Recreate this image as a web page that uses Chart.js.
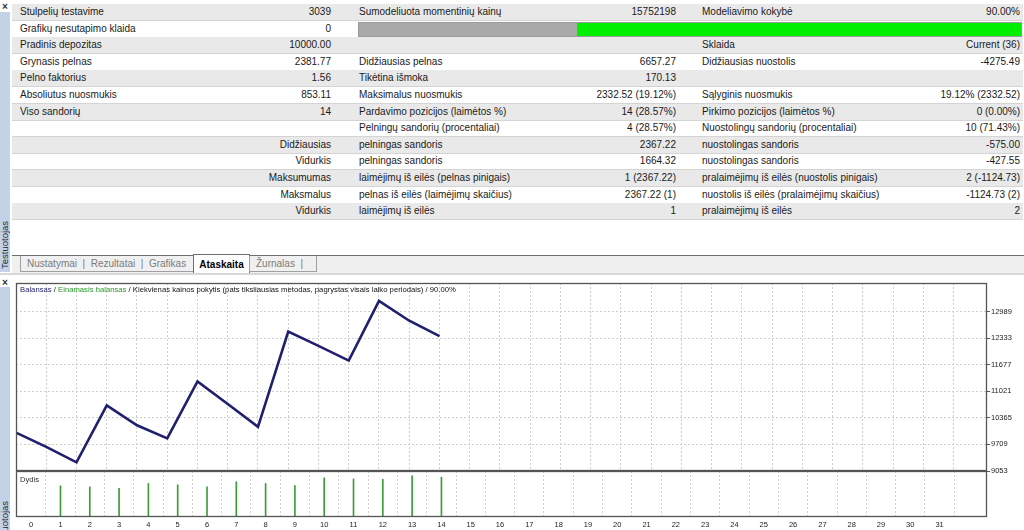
<!DOCTYPE html>
<html>
<head>
<meta charset="utf-8">
<script src="https://cdn.jsdelivr.net/npm/chart.js@4.4.1/dist/chart.umd.min.js"></script>
<style>
  body { margin: 0; width: 1024px; height: 530px; overflow: hidden; position: relative; background: #fff;
         font-family: "Liberation Sans", Arial, sans-serif; color: #1a1a1a; }
  .strip { position: absolute; left: 0; width: 10px; background: #c3d2e6; overflow: hidden; }
  .vtext { position: absolute; left: 0; transform-origin: 0 0; transform: rotate(-90deg);
           font-size: 9.5px; line-height: 10px; white-space: nowrap; color: #2a2a2a; }
  .close { position: absolute; left: 2px; font-size: 10px; font-weight: bold; color: #333; line-height: 10px; }
  .row { position: absolute; left: 12px; width: 1011px; height: 16px; border-bottom: 1px solid #d4d4d4; }
  .row.g { background: #e9e9e9; }
  .c { position: absolute; top: 0; line-height: 16px; font-size: 10px; white-space: nowrap; }
  .tabbar { position: absolute; left: 12px; top: 255px; width: 1012px; height: 17px; background: #f0f0f0; border-top: 1px solid #707070; }
  .tab { position: absolute; top: 0; height: 15px; line-height: 15px; font-size: 10px; color: #7b7b7b; white-space: nowrap; }
  canvas { position: absolute; left: 0; }
  .ttl { position: absolute; left: 20px; top: 285px; font-size: 7.7px; line-height: 9px; white-space: nowrap; color: #111; }
  .dyd { position: absolute; left: 20px; top: 475px; font-size: 7.6px; line-height: 9px; color: #333; }
</style>
</head>
<body>
<div class="close" style="top:2px">×</div>
<div class="strip" style="top:12px;height:260px"><div class="vtext" style="top:257px">Testuotojas</div></div>
<div id="table"></div>
<div class="tabbar">
  <div class="tab" style="left:8px;width:172px;border:1px solid #a0a0a0;border-top:none;padding-left:6px">Nustatymai &nbsp;|&nbsp; Rezultatai &nbsp;|&nbsp; Grafikas</div>
  <div class="tab" style="left:181px;width:55px;top:-2px;height:18px;line-height:19px;background:#fff;border:1px solid #707070;border-bottom:none;color:#000;font-weight:bold;text-align:center">Ataskaita</div>
  <div class="tab" style="left:237px;width:60px;border:1px solid #a0a0a0;border-top:none;padding-left:6px">Žurnalas &nbsp;|</div>
</div>
<div style="position:absolute;left:0;top:273px;width:1024px;height:2px;background:#d8d8d8"></div>
<div class="close" style="top:278px">×</div>
<div class="strip" style="top:287px;height:243px"><div class="vtext" style="top:262px">Testuotojas</div></div>

<canvas id="mainChart"></canvas>
<canvas id="volChart"></canvas>
<div class="ttl"><span style="color:#1f1f6e">Balansas</span> / <span style="color:#2a9a2a">Einamasis balansas</span> / Kiekvienas kainos pokytis (pats tiksliausias metodas, pagrystas visais laiko periodais) / 90.00%</div>
<div class="dyd">Dydis</div>

<script>
// trade number on x, balance after each trade
const tradeNo = [0, 1, 2, 3, 4, 5, 6, 7, 8, 9, 10, 11, 12, 13, 14];
const balance = [10000, 9650, 9267, 10672, 10182, 9856, 11262, 10705, 10141, 12490, 12139, 11776, 13250, 12760, 12382];

// lot size per trade (trades 1..14)
const volTrade = [1, 2, 3, 4, 5, 6, 7, 8, 9, 10, 11, 12, 13, 14];
const volSize = [0.90, 0.87, 0.83, 0.97, 0.93, 0.87, 1.02, 0.97, 0.91, 1.13, 1.10, 1.09, 1.19, 1.15];

const yTickLabels = [9053, 9709, 10365, 11021, 11677, 12333, 12989];
const xTickLabels = [0, 1, 2, 3, 4, 5, 6, 7, 8, 9, 10, 11, 12, 13, 14, 15, 16, 17, 18, 19, 20, 21, 22, 23, 24, 25, 26, 27, 28, 29, 30, 31];

// report table rows: [label1, value1, label2, value2, label3, value3, rightAlignLabel1]
const reportRows = [
  ['Stulpelių testavime', '3039', 'Sumodeliuota momentinių kainų', '15752198', 'Modeliavimo kokybė', '90.00%'],
  ['Grafikų nesutapimo klaida', '0', null, '', '', ''],
  ['Pradinis depozitas', '10000.00', '', '', 'Sklaida', 'Current (36)'],
  ['Grynasis pelnas', '2381.77', 'Didžiausias pelnas', '6657.27', 'Didžiausias nuostolis', '-4275.49'],
  ['Pelno faktorius', '1.56', 'Tikėtina išmoka', '170.13', '', ''],
  ['Absoliutus nuosmukis', '853.11', 'Maksimalus nuosmukis', '2332.52 (19.12%)', 'Sąlyginis nuosmukis', '19.12% (2332.52)'],
  ['Viso sandorių', '14', 'Pardavimo pozicijos (laimėtos %)', '14 (28.57%)', 'Pirkimo pozicijos (laimėtos %)', '0 (0.00%)'],
  ['', '', 'Pelningų sandorių (procentaliai)', '4 (28.57%)', 'Nuostolingų sandorių (procentaliai)', '10 (71.43%)'],
  ['Didžiausias', '', 'pelningas sandoris', '2367.22', 'nuostolingas sandoris', '-575.00', true],
  ['Vidurkis', '', 'pelningas sandoris', '1664.32', 'nuostolingas sandoris', '-427.55', true],
  ['Maksumumas', '', 'laimėjimų iš eilės (pelnas pinigais)', '1 (2367.22)', 'pralaimėjimų iš eilės (nuostolis pinigais)', '2 (-1124.73)', true],
  ['Maksmalus', '', 'pelnas iš eilės (laimėjimų skaičius)', '2367.22 (1)', 'nuostolis iš eilės (pralaimėjimų skaičius)', '-1124.73 (2)', true],
  ['Vidurkis', '', 'laimėjimų iš eilės', '1', 'pralaimėjimų iš eilės', '2', true]
];

// build the report table
const table = document.getElementById('table');
function cell(row, text, x, alignRight) {
  const d = document.createElement('div');
  d.className = 'c';
  d.textContent = text;
  if (alignRight) d.style.right = (1023 - x) + 'px';
  else d.style.left = (x - 12) + 'px';
  row.appendChild(d);
}
reportRows.forEach(function(r, i) {
  const row = document.createElement('div');
  row.className = 'row' + (i % 2 === 0 ? ' g' : '');
  row.style.top = (4 + i * 16.6) + 'px';
  if (r[6]) cell(row, r[0], 331, true); else cell(row, r[0], 20, false);
  cell(row, r[1], 331, true);
  if (r[2] === null) {
    // modelling quality bar
    const bar = document.createElement('div');
    bar.style.cssText = 'position:absolute;left:346px;top:1px;width:662px;height:13px;border:1px solid #9a9a9a;background:#00f000';
    const grey = document.createElement('div');
    grey.style.cssText = 'position:absolute;left:0;top:0;width:218px;height:13px;background:#a9a9a9';
    bar.appendChild(grey);
    row.appendChild(bar);
  } else {
    cell(row, r[2], 359, false);
    cell(row, r[3], 676, true);
    cell(row, r[4], 702, false);
    cell(row, r[5], 1020, true);
  }
  table.appendChild(row);
});

// frame around the plot area
const framePlugin = {
  id: 'frame',
  afterDraw(chart) {
    const a = chart.chartArea, ctx = chart.ctx;
    ctx.save();
    ctx.setLineDash([]);
    ctx.strokeStyle = '#555';
    ctx.lineWidth = 1.3;
    ctx.strokeRect(a.left + 0.5, a.top + 0.5, a.right - a.left - 1, a.bottom - a.top - 1);
    ctx.restore();
  }
};

const gridX = {
  type: 'linear', min: 0, max: 32.1,
  afterBuildTicks: function(axis) { axis.ticks = xTickLabels.map(v => ({ value: v })); },
  grid: { color: '#cdcdcd', drawTicks: false },
  border: { display: false, dash: [2, 2] }
};

function setup(id, top, height) {
  const c = document.getElementById(id);
  c.style.top = top + 'px';
  c.style.width = '1024px';
  c.style.height = height + 'px';
  c.width = 1024; c.height = height;
  return c.getContext('2d');
}

Chart.defaults.font.family = '"Liberation Sans", Arial, sans-serif';
Chart.defaults.color = '#222';

new Chart(setup('mainChart', 276, 197), {
  type: 'line',
  data: {
    datasets: [{
      data: tradeNo.map((x, i) => ({ x: x, y: balance[i] })),
      borderColor: '#1f1f6e',
      borderWidth: 2.6,
      pointRadius: 0,
      tension: 0
    }]
  },
  options: {
    responsive: false, animation: false,
    layout: { padding: { left: 16, top: 7, bottom: 2, right: 0 } },
    plugins: { legend: { display: false }, tooltip: { enabled: false } },
    scales: {
      x: Object.assign({}, gridX, {
        afterFit: function(axis) { axis.height = 0; axis.paddingLeft = 0; axis.paddingRight = 0; },
        ticks: { display: false }
      }),
      y: {
        position: 'right', min: 9053, max: 13691,
        afterBuildTicks: function(axis) { axis.ticks = yTickLabels.map(v => ({ value: v })); },
        afterFit: function(axis) { axis.width = 37; axis.paddingTop = 0; axis.paddingBottom = 0; },
        grid: { color: '#cdcdcd', tickLength: 3, tickColor: '#555', tickBorderDash: [] },
        border: { display: false, dash: [2, 2] },
        ticks: { font: { size: 7.5 }, padding: 1, color: '#222', callback: v => String(v) }
      }
    }
  },
  plugins: [framePlugin]
});

new Chart(setup('volChart', 471, 59), {
  type: 'bar',
  data: {
    datasets: [{
      data: volTrade.map((x, i) => ({ x: x, y: volSize[i] })),
      backgroundColor: '#3a9d3a',
      barThickness: 1
    }]
  },
  options: {
    responsive: false, animation: false,
    layout: { padding: { left: 16, top: 0, bottom: 0, right: 0 } },
    plugins: { legend: { display: false }, tooltip: { enabled: false } },
    scales: {
      x: Object.assign({}, gridX, {
        afterFit: function(axis) { axis.height = 13; axis.paddingLeft = 0; axis.paddingRight = 0; },
        ticks: { font: { size: 7.5 }, padding: 3, maxRotation: 0, autoSkip: false, color: '#222' }
      }),
      y: {
        position: 'right', min: 0, max: 1.33,
        afterFit: function(axis) { axis.width = 37; axis.paddingTop = 0; axis.paddingBottom = 0; },
        grid: { display: false },
        border: { display: false },
        ticks: { display: false }
      }
    }
  },
  plugins: [framePlugin]
});
</script>
</body>
</html>
